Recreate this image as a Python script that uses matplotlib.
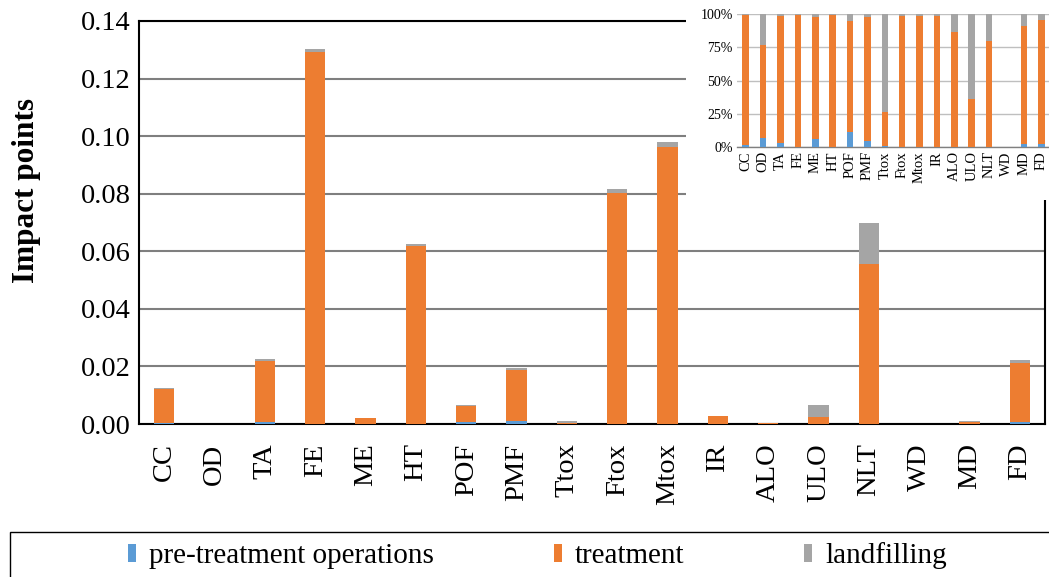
import numpy as np
import matplotlib
matplotlib.use("Agg")
import matplotlib.pyplot as plt
from matplotlib.patches import Rectangle, Patch

plt.rcParams['font.family'] = ['Liberation Serif', 'DejaVu Serif']

categories = ['CC', 'OD', 'TA', 'FE', 'ME', 'HT', 'POF', 'PMF', 'Ttox', 'Ftox',
              'Mtox', 'IR', 'ALO', 'ULO', 'NLT', 'WD', 'MD', 'FD']

# absolute impact points
pre_treatment = [0.0002, 0.00001, 0.0007, 0.0001, 0.0001, 0.0001, 0.0007, 0.0009, 0.00001,
                 0.0, 0.0001, 0.0, 0.0, 0.0, 0.0001, 0.0, 0.00003, 0.0007]
treatment = [0.0120, 0.0001, 0.0213, 0.1290, 0.0019, 0.0617, 0.0055, 0.0180, 0.0003,
             0.0803, 0.0962, 0.0028, 0.00026, 0.0024, 0.0554, 0.0, 0.0008, 0.0205]
landfilling = [0.0003, 0.00003, 0.0005, 0.0010, 0.0001, 0.0008, 0.0004, 0.0005, 0.0009,
               0.0013, 0.0015, 0.00003, 0.00004, 0.0043, 0.0142, 0.0, 0.00009, 0.0012]

# shares in percent (inset)
pre_pct = [1.5, 7.0, 3.0, 0.0, 6.3, 0.0, 11.3, 4.3, 0.5, 0.0, 0.1, 0.0, 0.0, 0.0, 0.2, 0.0, 2.5, 2.3]
treat_pct = [97.5, 70.0, 95.5, 99.5, 91.2, 99.0, 83.7, 93.4, 25.8, 98.8, 98.4, 98.8, 86.7,
             36.3, 79.8, 0.0, 88.5, 92.9]
land_pct = [1.0, 23.0, 1.5, 0.5, 2.5, 1.0, 5.0, 2.3, 73.7, 1.2, 1.5, 1.2, 13.3, 63.7, 20.0,
            0.0, 9.0, 4.8]

c_pre = '#5B9BD5'
c_treat = '#ED7D31'
c_land = '#A5A5A5'

x = np.arange(len(categories))
pre = np.array(pre_treatment)
trt = np.array(treatment)
lnd = np.array(landfilling)

fig = plt.figure(figsize=(10.49, 5.77), dpi=100)

# main chart
ax = fig.add_axes([139 / 1049, 1 - 424 / 577, 906 / 1049, 403 / 577])
w = 0.4
ax.bar(x, pre, w, color=c_pre, linewidth=0, zorder=3)
ax.bar(x, trt, w, bottom=pre, color=c_treat, linewidth=0, zorder=3)
ax.bar(x, lnd, w, bottom=pre + trt, color=c_land, linewidth=0, zorder=3)
ax.set_xlim(-0.5, len(categories) - 0.5)
ax.set_ylim(0, 0.14)
ax.set_yticks(np.arange(0, 0.141, 0.02))
ax.set_yticklabels([f"{v:.2f}" for v in np.arange(0, 0.141, 0.02)], fontsize=20.5)
ax.set_xticks(x)
ax.set_xticklabels(categories, rotation=90, fontsize=20.5)
ax.tick_params(axis='both', length=0)
ax.tick_params(axis='x', pad=14)
ax.tick_params(axis='y', pad=6)
ax.yaxis.grid(True, color='#7F7F7F', linewidth=1.5, zorder=0)
for s in ax.spines.values():
    s.set_color('black')
    s.set_linewidth(1.5)
ax.set_ylabel('Impact points', fontsize=22.5, fontweight='bold')
ax.yaxis.set_label_coords(-0.108, 0.58)

# white box behind the inset
fig.patches.append(Rectangle((686 / 1049, 1 - 200 / 577), 1 - 686 / 1049, 200 / 577,
                             transform=fig.transFigure, facecolor='white',
                             edgecolor='none', zorder=1))

# inset with shares
ins = fig.add_axes([737 / 1049, 1 - 147 / 577, 313 / 1049, 133 / 577], zorder=2)
pp = np.array(pre_pct)
tp = np.array(treat_pct)
lp = np.array(land_pct)
wi = 0.38
ins.bar(x, pp, wi, color=c_pre, zorder=3)
ins.bar(x, tp, wi, bottom=pp, color=c_treat, zorder=3)
ins.bar(x, lp, wi, bottom=pp + tp, color=c_land, zorder=3)
ins.set_xlim(-0.5, len(categories) - 0.5)
ins.set_ylim(0, 100)
ins.set_yticks([0, 25, 50, 75, 100])
ins.set_yticklabels(['0%', '25%', '50%', '75%', '100%'], fontsize=10)
ins.set_xticks(x)
ins.set_xticklabels(categories, rotation=90, fontsize=10.5)
ins.tick_params(axis='both', length=0, pad=3)
ins.yaxis.grid(True, color='#BFBFBF', linewidth=1.0, zorder=0)
for k in ['left', 'right', 'top']:
    ins.spines[k].set_visible(False)
ins.spines['bottom'].set_color('#808080')
ins.spines['bottom'].set_linewidth(1.0)

# legend box
fig.patches.append(Rectangle((10 / 1049, -0.05), 1.1, (577 - 532) / 577 + 0.05,
                             transform=fig.transFigure, facecolor='none',
                             edgecolor='black', linewidth=1.0, zorder=1))
handles = [Patch(facecolor=c_pre), Patch(facecolor=c_treat), Patch(facecolor=c_land)]
labels = ['pre-treatment operations', 'treatment', 'landfilling']
fig.legend(handles, labels, loc='center left', bbox_to_anchor=(128 / 1049, 1 - 556 / 577),
           ncol=3, frameon=False, fontsize=21, handlelength=0.28, handleheight=0.6,
           handletextpad=0.45, columnspacing=4.1, borderpad=0, borderaxespad=0)

fig.savefig('out.png', dpi=100)
